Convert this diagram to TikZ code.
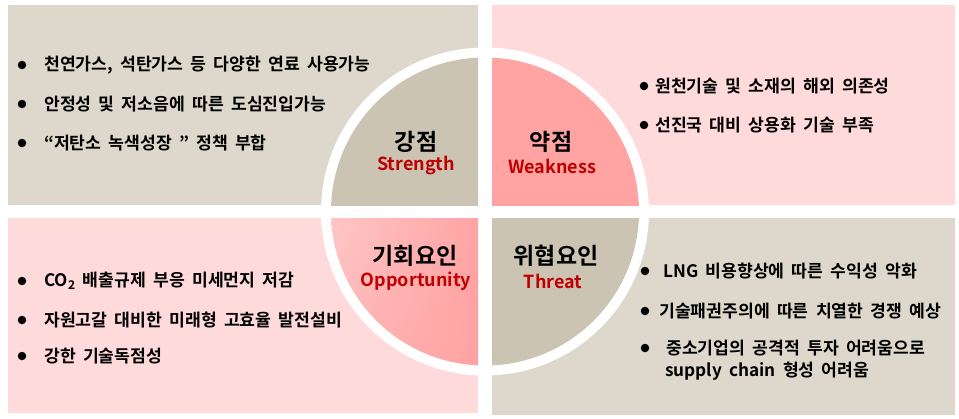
\documentclass[tikz,border=0pt]{standalone}
\usepackage{fontspec}
\setmainfont{Noto Sans CJK KR}[BoldFont={Noto Sans CJK KR Bold}]
\usetikzlibrary{shadings}
\definecolor{paneltan}{HTML}{DDD8CB}
\definecolor{panelpink}{HTML}{FFDADA}
\definecolor{circtan}{HTML}{CBC4B3}
\definecolor{circpink}{HTML}{FFA3A3}
\definecolor{circpinklight}{HTML}{FFC6C6}
\definecolor{labelred}{HTML}{C00000}
% bullet text: bold, with wide word spaces
\newcommand\bulletfont{\bfseries\fontsize{17.2}{20}\selectfont\spaceskip=7.2pt plus 1pt minus 1pt\relax}
\begin{document}
\begin{tikzpicture}[x=1pt,y=-1pt,
  item/.style={anchor=west,inner sep=0pt,font=\bulletfont,text=black},
  dot/.style={circle,fill=black,inner sep=0pt,minimum size=8.5pt},
  kor/.style={inner sep=0pt,font=\bfseries\fontsize{23}{26}\selectfont,text=black},
  eng/.style={inner sep=0pt,font=\bfseries\fontsize{18}{21}\selectfont,text=labelred}]
\useasboundingbox (0,0) rectangle (959,418);
\fill[white] (0,0) rectangle (959,418);

% four background panels
\fill[paneltan]  (8,5)   rectangle (478,205);
\fill[panelpink] (492,5) rectangle (955,205);
\fill[panelpink] (8,218) rectangle (478,413);
\fill[paneltan]  (492,218) rectangle (955,415);

% white ring around the central disc
\fill[white] (485,211.5) circle (164);

% disc quadrants
\begin{scope}
  \clip (0,0) rectangle (478,205);
  \fill[circtan] (485,211.5) circle (154);
\end{scope}
\begin{scope}
  \clip (492,0) rectangle (959,205);
  \fill[circpink] (485,211.5) circle (154);
\end{scope}
\begin{scope}
  \clip (0,218) rectangle (478,418);
  \clip (485,211.5) circle (154);
  \shade[upper left=circpinklight,lower right=circpink,upper right=circpink,
         lower left=circpinklight!50!circpink]
    (331,218) rectangle (478,366);
\end{scope}
\begin{scope}
  \clip (492,218) rectangle (959,418);
  \fill[circtan] (485,211.5) circle (154);
\end{scope}

% quadrant titles
\node[kor] (sK) at (416,142) {강점};
\node[eng] (sE) at (416,166) {Strength};
\node[kor] (wK) at (551,142) {약점};
\node[eng] (wE) at (552,166) {Weakness};
\node[kor] (oK) at (415,256) {기회요인};
\node[eng] (oE) at (416,281) {Opportunity};
\node[kor] (tK) at (556,256) {위협요인};
\node[eng] (tE) at (553,281) {Threat};

% strengths
\node[dot] (sd1) at (22,65) {};
\node[item] (s1) at (44,65) {천연가스, 석탄가스 등 다양한 연료 사용가능};
\node[dot] (sd2) at (22,104) {};
\node[item] (s2) at (44,104) {안정성 및 저소음에 따른 도심진입가능};
\node[dot] (sd3) at (22,143) {};
\node[item] (s3) at (44,143) {“저탄소 녹색성장 ” 정책 부합};

% weaknesses
\node[dot] (wd1) at (644,86) {};
\node[item] (w1) at (655,86) {원천기술 및 소재의 해외 의존성};
\node[dot] (wd2) at (644,125) {};
\node[item] (w2) at (655,125) {선진국 대비 상용화 기술 부족};

% opportunities
\node[dot] (od1) at (22,281) {};
\node[item] (o1) at (44,281) {CO\textsubscript{2} 배출규제 부응 미세먼지 저감};
\node[dot] (od2) at (22,320) {};
\node[item] (o2) at (44,320) {자원고갈 대비한 미래형 고효율 발전설비};
\node[dot] (od3) at (22,356) {};
\node[item] (o3) at (44,356) {강한 기술독점성};

% threats
\node[dot] (td1) at (645,271) {};
\node[item] (t1) at (663,271) {LNG 비용향상에 따른 수익성 악화};
\node[dot] (td2) at (645,311) {};
\node[item] (t2) at (659,311) {기술패권주의에 따른 치열한 경쟁 예상};
\node[dot] (td3) at (645,348) {};
\node[item] (t3) at (666,348) {중소기업의 공격적 투자 어려움으로};
\node[item] (t4) at (665,371) {supply chain 형성 어려움};
\end{tikzpicture}
\end{document}
